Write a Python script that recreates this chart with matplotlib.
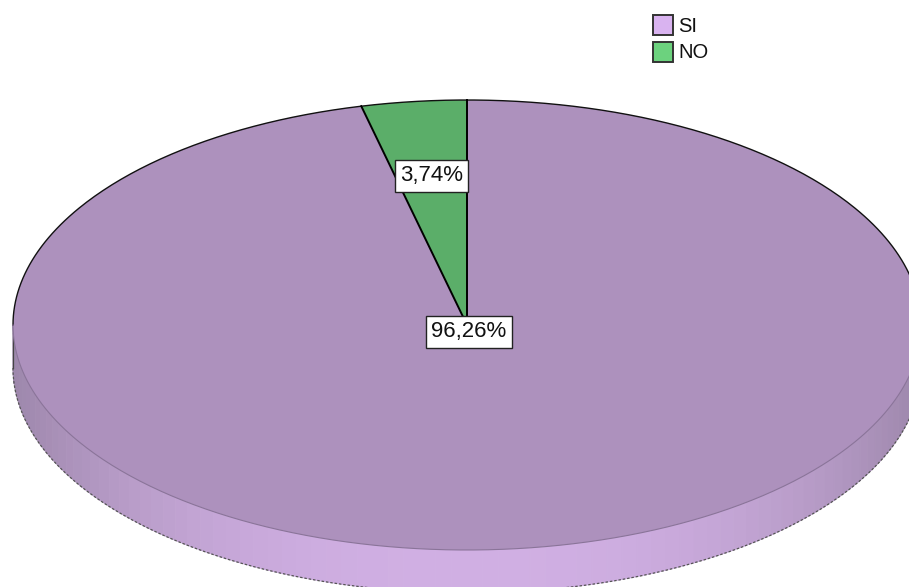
import numpy as np
import matplotlib
matplotlib.use("Agg")
import matplotlib.pyplot as plt
from matplotlib.patches import Polygon, Rectangle
from matplotlib.colors import to_rgb

# ---- data ----
categories = ["SI", "NO"]
values = [96.26, 3.74]
labels = ["96,26%", "3,74%"]
top_colors = {"SI": "#AD91BD", "NO": "#5BAE69"}
legend_colors = {"SI": "#D9B3F0", "NO": "#6CD27E"}

W, H = 909, 587
fig = plt.figure(figsize=(W / 100, H / 100), dpi=100)
ax = fig.add_axes([0, 0, 1, 1])
ax.set_xlim(0, W)
ax.set_ylim(H, 0)
ax.axis("off")

cx, cy, rx, ry, depth = 467, 325, 454, 225, 43


def pt(theta_deg, dy=0.0, r=1.0):
    t = np.radians(theta_deg)
    return cx + r * rx * np.cos(t), cy - r * ry * np.sin(t) + dy


# angles: NO starts at top (90 deg) going counter-clockwise, SI takes the rest
total = sum(values)
order = ["NO", "SI"]
start = 90.0
spans = {}
for name in order:
    v = values[categories.index(name)]
    ext = 360.0 * v / total
    spans[name] = (start, start + ext)
    start += ext

# ---- side (front half, 180..360 deg) with shading ----
light = np.array(to_rgb("#D0AFE3"))
dark = np.array(to_rgb("#9D87AB"))
angs = np.linspace(180, 360, 91)
for a0, a1 in zip(angs[:-1], angs[1:]):
    am = 0.5 * (a0 + a1)
    t = abs(np.cos(np.radians(am))) ** 2.5
    col = light * (1 - t) + dark * t
    x0, y0 = pt(a0)
    x1, y1 = pt(a1)
    poly = Polygon([(x0, y0), (x1, y1), (x1, y1 + depth), (x0, y0 + depth)],
                   closed=True, facecolor=col, edgecolor=col, lw=0.6, zorder=1)
    ax.add_patch(poly)

# outer outline of side
a = np.linspace(180, 360, 300)
xs, ys = pt(a, dy=depth)
ax.plot(xs, ys, color="#555555", lw=0.9, ls=(0, (2, 1.5)), zorder=2)
for ang in (180, 360):
    x0, y0 = pt(ang)
    ax.plot([x0, x0], [y0, y0 + depth], color="#444444", lw=0.9, zorder=2)

# ---- top face wedges ----
for name in order:
    a0, a1 = spans[name]
    a = np.linspace(a0, a1, max(int(a1 - a0) * 2, 10))
    xs, ys = pt(a)
    verts = [(cx, cy)] + list(zip(xs, ys))
    ax.add_patch(Polygon(verts, closed=True, facecolor=top_colors[name],
                         edgecolor="none", zorder=3))

# rim outline: upper half solid black, lower half faint
a = np.linspace(0, 180, 300)
xs, ys = pt(a)
ax.plot(xs, ys, color="#111111", lw=1.0, zorder=4)
a = np.linspace(180, 360, 300)
xs, ys = pt(a)
ax.plot(xs, ys, color="#8A7499", lw=0.8, zorder=4)

# wedge separator lines
for name in order:
    a0, _ = spans[name]
    x0, y0 = pt(a0)
    ax.plot([cx, x0], [cy, y0], color="black", lw=1.4, zorder=5)

# ---- labels ----
label_r = {"NO": 0.667, "SI": 0.03}
for name in order:
    a0, a1 = spans[name]
    am = 0.5 * (a0 + a1)
    x, y = pt(am, r=label_r[name])
    ax.text(x, y, labels[categories.index(name)], ha="center", va="center",
            fontsize=16, family=["Liberation Sans", "DejaVu Sans"], color="#111111",
            bbox=dict(boxstyle="square,pad=0.24", facecolor="white",
                      edgecolor="#222222", lw=1.0), zorder=6)

# ---- legend ----
lx, ly0, box, step = 653, 15, 20, 27
for i, name in enumerate(categories):
    y = ly0 + i * step
    ax.add_patch(Rectangle((lx, y), box, box, facecolor=legend_colors[name],
                           edgecolor="#333333", lw=1.4, zorder=6))
    ax.text(lx + box + 5, y + box / 2 + 1, name, ha="left", va="center",
            fontsize=14.5, family=["Liberation Sans", "DejaVu Sans"], color="#111111", zorder=6)

fig.savefig("out.png", dpi=100)
